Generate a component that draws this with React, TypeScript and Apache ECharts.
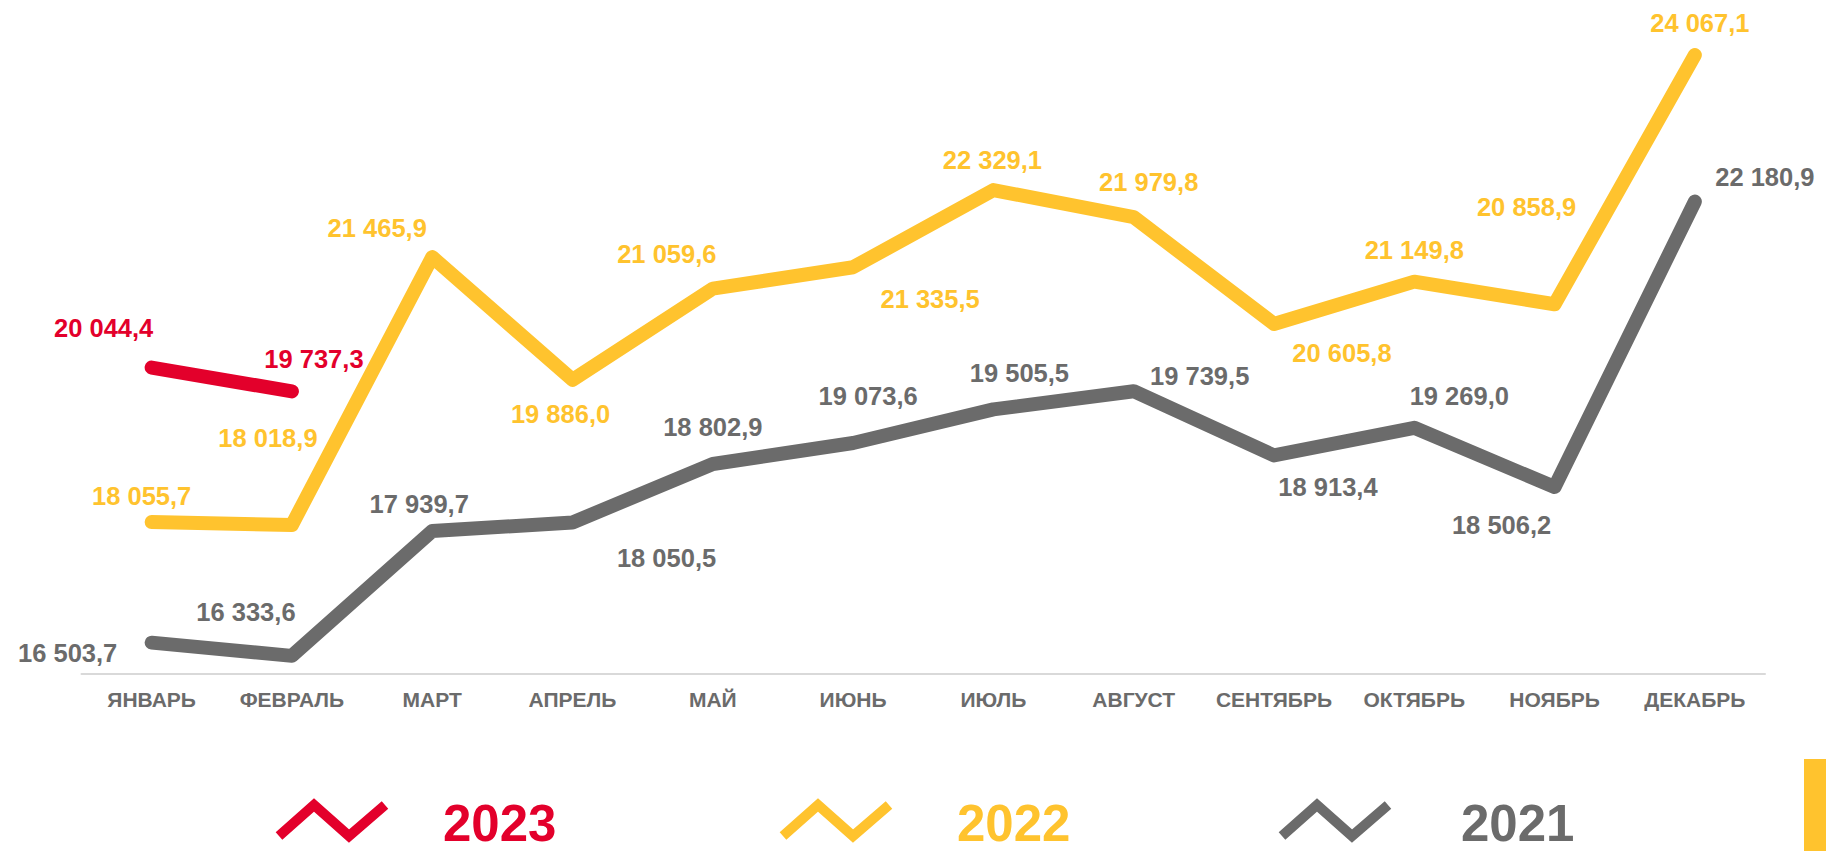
import React, { useEffect, useRef } from "react";
import * as echarts from "echarts";

const months = ["ЯНВАРЬ", "ФЕВРАЛЬ", "МАРТ", "АПРЕЛЬ", "МАЙ", "ИЮНЬ", "ИЮЛЬ", "АВГУСТ", "СЕНТЯБРЬ", "ОКТЯБРЬ", "НОЯБРЬ", "ДЕКАБРЬ"];
const values2023 = [20044.4, 19737.3];
const values2022 = [18055.7, 18018.9, 21465.9, 19886.0, 21059.6, 21335.5, 22329.1, 21979.8, 20605.8, 21149.8, 20858.9, 24067.1];
const values2021 = [16503.7, 16333.6, 17939.7, 18050.5, 18802.9, 19073.6, 19505.5, 19739.5, 18913.4, 19269.0, 18506.2, 22180.9];
const legendNames = ["2023", "2022", "2021"];

// label placement (layout only)
const offsets2023 = [[-48, -40], [22, -32]];
const offsets2022 = [[-10, -26], [-24, -87], [-55, -29], [-12, 34], [-46, -35], [77, 32], [-1, -30], [15, -35], [68, 29], [0, -32], [-28, -97], [5, -32]];
const offsets2021 = [[-84, 10], [-46, -44], [-13, -27], [94, 36], [0, -37], [15, -47], [26, -36], [66, -15], [54, 32], [45, -32], [-53, 38], [70, -25]];

const RED = "#e3002b";
const YELLOW = "#ffc32e";
const GRAY = "#6b6b6b";
const FONT = "'Liberation Sans', Arial, sans-serif";

function fmt(v: number): string {
  const [i, d] = v.toFixed(1).split(".");
  return i.replace(/\B(?=(\d{3})+(?!\d))/g, " ") + "," + d;
}

function makeSeries(name: string, vals: number[], offs: number[][], color: string, z: number) {
  return {
    name,
    type: "line",
    z,
    symbol: "circle",
    symbolSize: 2,
    showSymbol: true,
    itemStyle: { color: "rgba(0,0,0,0)", borderWidth: 0 },
    lineStyle: { color, width: 14, cap: "round", join: "round" },
    label: {
      show: true,
      position: "inside",
      color,
      fontSize: 25.5,
      fontWeight: "bold",
      fontFamily: FONT,
      formatter: (p: any) => fmt(p.value),
    },
    emphasis: { disabled: true },
    data: vals.map((v, i) => ({ value: v, label: { offset: offs[i] } })),
  };
}

export default function App() {
  const ref = useRef<HTMLDivElement>(null);
  useEffect(() => {
    if (!ref.current) return;
    const chart = echarts.init(ref.current, null, { renderer: "svg" });
    const legendColors = [RED, YELLOW, GRAY];
    const iconShift = [0, 504, 1003];
    const textX = [443, 957, 1461];
    const graphics: any[] = [];
    legendNames.forEach((n, k) => {
      const s = iconShift[k];
      graphics.push({
        type: "polyline",
        shape: { points: [[279 + s, 836], [314 + s, 805], [349 + s, 836], [385 + s, 805]] },
        style: { stroke: legendColors[k], lineWidth: 10, fill: null, lineJoin: "miter" },
      });
      graphics.push({
        type: "text",
        x: textX[k],
        y: 823,
        style: {
          text: n,
          fill: legendColors[k],
          fontSize: 51,
          fontWeight: "bold",
          fontFamily: FONT,
          align: "left",
          verticalAlign: "middle",
        },
      });
    });
    graphics.push({
      type: "rect",
      shape: { x: 1804, y: 759, width: 22, height: 92 },
      style: { fill: YELLOW },
    });
    chart.setOption({
      animation: false,
      grid: { left: 81.5, right: 61, top: 0, bottom: 177 },
      xAxis: {
        type: "category",
        data: months,
        boundaryGap: true,
        axisLine: { show: true, lineStyle: { color: "#d9d9d9", width: 2 } },
        axisTick: { show: false },
        axisLabel: { color: GRAY, fontSize: 21, fontWeight: "bold", fontFamily: FONT, margin: 15, interval: 0 },
      },
      yAxis: { type: "value", min: 16100, max: 24775, show: false, splitLine: { show: false } },
      series: [
        makeSeries("2021", values2021, offsets2021, GRAY, 2),
        makeSeries("2022", values2022, offsets2022, YELLOW, 3),
        makeSeries("2023", values2023, offsets2023, RED, 4),
      ],
      graphic: graphics,
    });
    return () => chart.dispose();
  }, []);
  return <div ref={ref} style={{ position: "absolute", left: 0, top: 0, width: 1826, height: 851 }} />;
}
